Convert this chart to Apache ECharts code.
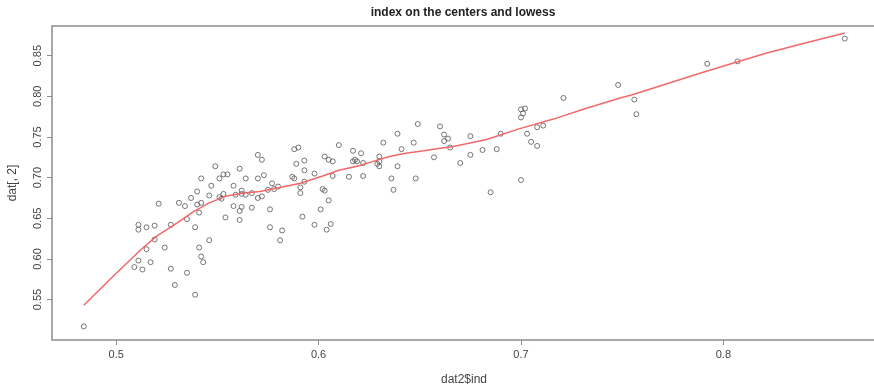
<!DOCTYPE html>
<html>
<head>
<meta charset="utf-8">
<script src="https://cdn.jsdelivr.net/npm/echarts@6/dist/echarts.min.js"></script>
<style>
  html, body { margin: 0; padding: 0; background: #fff; }
  #chart { width: 874px; height: 390px; }
</style>
</head>
<body>
<div id="chart"></div>
<script>
// values
var xs = [0.484,0.509,0.511,0.513,0.517,0.515,0.519,0.511,0.511,0.515,
  0.519,0.521,0.524,0.527,0.527,0.529,0.531,0.534,0.537,0.535,
  0.535,0.539,0.539,0.541,0.542,0.543,0.546,0.540,0.542,0.541,
  0.540,0.542,0.546,0.547,0.549,0.551,0.553,0.555,0.551,0.552,
  0.553,0.554,0.558,0.561,0.564,0.559,0.562,0.564,0.567,0.562,
  0.558,0.562,0.561,0.567,0.561,0.570,0.570,0.570,0.572,0.573,
  0.572,0.575,0.577,0.578,0.580,0.576,0.576,0.582,0.581,0.588,
  0.590,0.589,0.593,0.587,0.588,0.593,0.593,0.591,0.591,0.592,
  0.598,0.603,0.605,0.607,0.610,0.607,0.602,0.603,0.605,0.601,
  0.598,0.606,0.604,0.617,0.621,0.617,0.618,0.619,0.622,0.615,
  0.622,0.630,0.630,0.629,0.630,0.632,0.639,0.641,0.639,0.636,
  0.637,0.647,0.649,0.648,0.657,0.660,0.662,0.664,0.662,0.665,
  0.670,0.675,0.675,0.681,0.688,0.690,0.685,0.700,0.700,0.702,
  0.701,0.700,0.703,0.705,0.708,0.708,0.711,0.721,0.748,0.756,
  0.757,0.792,0.807,0.860];
var ys = [0.517,0.590,0.598,0.587,0.596,0.612,0.624,0.642,0.636,0.639,
  0.641,0.668,0.614,0.642,0.588,0.568,0.669,0.665,0.675,0.649,
  0.583,0.556,0.639,0.614,0.603,0.596,0.623,0.667,0.669,0.657,
  0.683,0.699,0.678,0.690,0.714,0.699,0.704,0.704,0.676,0.674,
  0.680,0.651,0.690,0.711,0.699,0.679,0.684,0.679,0.681,0.680,
  0.665,0.664,0.659,0.663,0.648,0.728,0.675,0.699,0.722,0.703,
  0.677,0.685,0.693,0.686,0.689,0.661,0.639,0.635,0.623,0.735,
  0.737,0.717,0.721,0.701,0.699,0.709,0.695,0.688,0.681,0.652,
  0.705,0.726,0.722,0.720,0.740,0.702,0.686,0.684,0.672,0.661,
  0.642,0.643,0.636,0.733,0.730,0.720,0.722,0.720,0.718,0.701,
  0.702,0.726,0.720,0.717,0.714,0.743,0.754,0.735,0.714,0.699,
  0.685,0.743,0.766,0.699,0.725,0.763,0.753,0.748,0.745,0.737,
  0.718,0.751,0.728,0.734,0.735,0.754,0.682,0.697,0.784,0.785,
  0.779,0.774,0.754,0.744,0.739,0.762,0.764,0.798,0.814,0.796,
  0.778,0.840,0.843,0.871];

// lowess curve
var lowessX = [0.484,0.497,0.512,0.520,0.530,0.538,0.546,0.554,0.563,0.571,
  0.581,0.591,0.602,0.610,0.619,0.627,0.635,0.643,0.652,0.660,
  0.666,0.683,0.699,0.716,0.732,0.749,0.755,0.788,0.805,0.821,
  0.838,0.860];
var lowessY = [0.543,0.575,0.611,0.628,0.644,0.658,0.669,0.677,0.681,0.683,
  0.688,0.693,0.702,0.709,0.714,0.720,0.726,0.730,0.733,0.736,
  0.738,0.747,0.760,0.772,0.785,0.798,0.802,0.828,0.841,0.853,
  0.864,0.878];

var xTicks = [0.5, 0.6, 0.7, 0.8];
var yTicks = [0.55, 0.60, 0.65, 0.70, 0.75, 0.80, 0.85];

var font = '"Liberation Sans", Arial, sans-serif';
var textCol = '#444';
var boxCol = '#8c8c8c';

var chart = echarts.init(document.getElementById('chart'), null, { renderer: 'canvas' });
chart.setOption({
  animation: false,
  backgroundColor: '#fff',
  graphic: [{
    type: 'text',
    x: 463,
    y: 13,
    style: {
      text: 'index on the centers and lowess',
      align: 'center',
      verticalAlign: 'middle',
      font: 'bold 12px ' + font,
      fill: '#222'
    }
  }],
  // right edge of the box runs just off the picture, as in the reference
  grid: {
    left: 52, right: -2, top: 26, bottom: 50,
    show: true,
    borderColor: boxCol,
    borderWidth: 1.5,
    outerBoundsMode: 'none'
  },
  xAxis: {
    type: 'value',
    min: 0.4683,
    max: 0.8754,
    name: 'dat2$ind',
    nameLocation: 'middle',
    nameGap: 34,
    nameTextStyle: { color: textCol, fontSize: 12, fontFamily: font },
    axisLine: { show: false },
    splitLine: { show: false },
    axisTick: {
      show: true, length: 5, customValues: xTicks,
      lineStyle: { color: boxCol, width: 1 }
    },
    axisLabel: {
      customValues: xTicks,
      margin: 9,
      color: textCol, fontSize: 11, fontFamily: font,
      formatter: function (v) { return v.toFixed(1); }
    }
  },
  yAxis: {
    type: 'value',
    min: 0.5003,
    max: 0.8865,
    name: 'dat[, 2]',
    nameLocation: 'middle',
    nameGap: 33,
    nameRotate: 90,
    nameTextStyle: { color: textCol, fontSize: 12, fontFamily: font },
    axisLine: { show: false },
    splitLine: { show: false },
    axisTick: {
      show: true, length: 5, customValues: yTicks,
      lineStyle: { color: boxCol, width: 1 }
    },
    axisLabel: {
      customValues: yTicks,
      rotate: 90,
      margin: 9,
      color: textCol, fontSize: 11, fontFamily: font,
      formatter: function (v) { return v.toFixed(2); }
    }
  },
  series: [{
    type: 'scatter',
    data: xs.map(function (x, i) { return [x, ys[i]]; }),
    symbol: 'circle',
    symbolSize: 5,
    itemStyle: { color: 'rgba(255,255,255,0)', borderColor: '#555', borderWidth: 1 },
    z: 2
  }, {
    type: 'line',
    data: lowessX.map(function (x, i) { return [x, lowessY[i]]; }),
    showSymbol: false,
    smooth: false,
    lineStyle: { color: '#f26868', width: 1.5 },
    z: 3
  }]
});
</script>
</body>
</html>
